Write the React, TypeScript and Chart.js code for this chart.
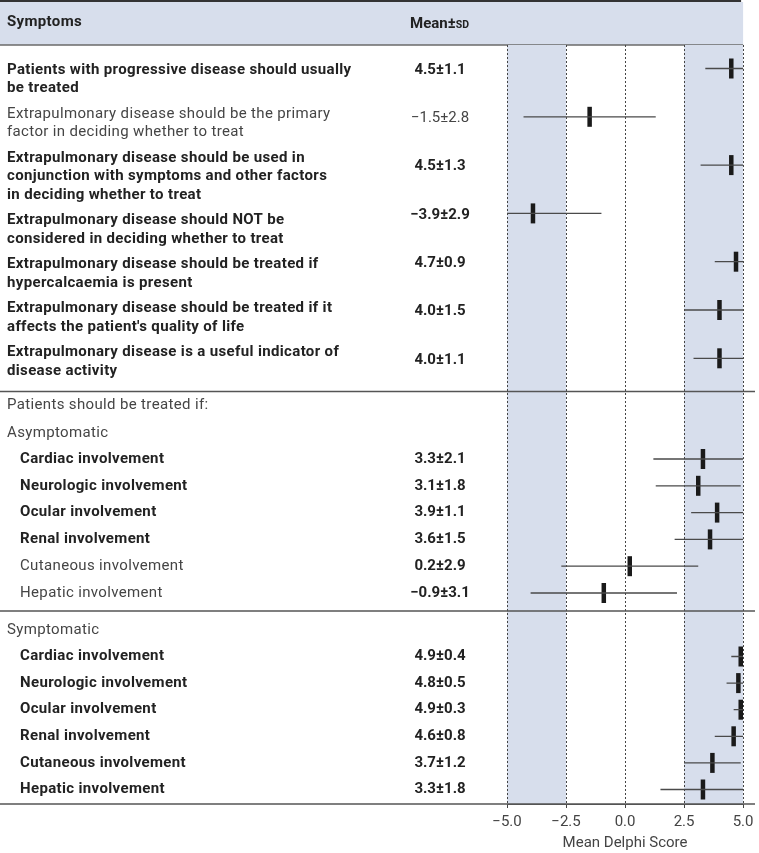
import React, { useEffect, useRef } from "react";
import { Chart, registerables } from "chart.js";

Chart.register(...registerables);

// ---------- DATA ----------
const generalItems: string[][] = [
  ["Patients with progressive disease should usually", "be treated"],
  ["Extrapulmonary disease should be the primary", "factor in deciding whether to treat"],
  ["Extrapulmonary disease should be used in", "conjunction with symptoms and other factors", "in deciding whether to treat"],
  ["Extrapulmonary disease should NOT be", "considered in deciding whether to treat"],
  ["Extrapulmonary disease should be treated if", "hypercalcaemia is present"],
  ["Extrapulmonary disease should be treated if it", "affects the patient's quality of life"],
  ["Extrapulmonary disease is a useful indicator of", "disease activity"],
];
const generalMeans = [4.5, -1.5, 4.5, -3.9, 4.7, 4.0, 4.0];
const generalSD = [1.1, 2.8, 1.3, 2.9, 0.9, 1.5, 1.1];
const generalBold = [true, false, true, true, true, true, true];
const generalMeanBold = [true, false, true, true, true, true, true];

const sectionHeading = "Patients should be treated if:";
const groupNames = ["Asymptomatic", "Symptomatic"];
const organs = [
  "Cardiac involvement",
  "Neurologic involvement",
  "Ocular involvement",
  "Renal involvement",
  "Cutaneous involvement",
  "Hepatic involvement",
];
const asymMeans = [3.3, 3.1, 3.9, 3.6, 0.2, -0.9];
const asymSD = [2.1, 1.8, 1.1, 1.5, 2.9, 3.1];
const asymBold = [true, true, true, true, false, false];
const asymMeanBold = [true, true, true, true, true, true];

const symMeans = [4.9, 4.8, 4.9, 4.6, 3.7, 3.3];
const symSD = [0.4, 0.5, 0.3, 0.8, 1.2, 1.8];
const symBold = [true, true, true, true, true, true];
const symMeanBold = [true, true, true, true, true, true];

const xTicks = [-5, -2.5, 0, 2.5, 5];
const xTitle = "Mean Delphi Score";
const headerSymptoms = "Symptoms";
const headerMean = "Mean±";
const headerSD = "SD";

// ---------- LAYOUT ----------
const W = 759;
const H = 853;
const AREA_TOP = 45;
const AREA_BOTTOM = 804;
const AREA_LEFT = 507;
const AREA_RIGHT = 745;
const FONT = "Roboto, 'DejaVu Sans', sans-serif";
const BAND = "#d7deec";
const DARK = "#222222";
const REG = "#454545";

const genRowY = generalMeans.map((_, i) => 68.5 + i * 48.3);
const asymRowY = organs.map((_, i) => 459 + i * 26.8);
const symRowY = organs.map((_, i) => 656.5 + i * 26.6);

const fmt = (v: number) => (v < 0 ? "\u2212" : "") + Math.abs(v).toFixed(1);
const fmtMean = (m: number, s: number) => `${fmt(m)}±${s.toFixed(1)}`;
const clamp = (v: number) => Math.max(-5, Math.min(5, v));

export default function App() {
  const ref = useRef<HTMLCanvasElement | null>(null);

  useEffect(() => {
    if (!ref.current) return;

    const allMeans = [...generalMeans, ...asymMeans, ...symMeans];
    const allSD = [...generalSD, ...asymSD, ...symSD];
    const allY = [...genRowY, ...asymRowY, ...symRowY];

    const segs: any[] = [];
    allMeans.forEach((m, i) => {
      segs.push({ x: clamp(m - allSD[i]), y: allY[i] });
      segs.push({ x: clamp(m + allSD[i]), y: allY[i] });
      segs.push({ x: clamp(m + allSD[i]), y: null });
    });
    const marks = allMeans.map((m, i) => ({ x: m, y: allY[i] }));

    const bgPlugin = {
      id: "bg",
      beforeDraw(chart: any) {
        const { ctx } = chart;
        const xs = chart.scales.x;
        const top = chart.chartArea.top;
        const bottom = chart.chartArea.bottom;
        ctx.save();
        ctx.fillStyle = "#ffffff";
        ctx.fillRect(0, 0, W, H);
        // header band
        ctx.fillStyle = BAND;
        ctx.fillRect(0, 2, xs.getPixelForValue(5), top - 2);
        ctx.fillStyle = "#333";
        ctx.fillRect(0, 0, xs.getPixelForValue(5) - 2, 2);
        ctx.strokeStyle = "#6a6a6a";
        ctx.lineWidth = 1.5;
        ctx.beginPath();
        ctx.moveTo(0, top);
        ctx.lineTo(xs.getPixelForValue(5), top);
        ctx.stroke();
        // shaded zones
        ctx.fillStyle = BAND;
        const a = xs.getPixelForValue(-5), b = xs.getPixelForValue(-2.5);
        const c = xs.getPixelForValue(2.5), d = xs.getPixelForValue(5);
        ctx.fillRect(a, top, b - a, bottom - top);
        ctx.fillRect(c, top, d - c, bottom - top);
        ctx.restore();
      },
      afterDraw(chart: any) {
        const { ctx } = chart;
        ctx.save();
        // separators
        ctx.strokeStyle = "#555";
        ctx.lineWidth = 1.3;
        [391.5, 611, chart.chartArea.bottom].forEach((y) => {
          ctx.beginPath();
          ctx.moveTo(0, y);
          ctx.lineTo(755, y);
          ctx.stroke();
        });

        const text = (
          s: string,
          x: number,
          y: number,
          bold: boolean,
          align: CanvasTextAlign = "left",
          spacing = "0.35px"
        ) => {
          ctx.font = `${bold ? "bold " : ""}15px ${FONT}`;
          (ctx as any).letterSpacing = spacing;
          ctx.fillStyle = bold ? DARK : REG;
          ctx.textAlign = align;
          ctx.textBaseline = "middle";
          ctx.fillText(s, x, y);
          (ctx as any).letterSpacing = "0px";
        };

        // header
        text(headerSymptoms, 7, 22, true);
        ctx.font = `bold 15px ${FONT}`;
        ctx.fillStyle = DARK;
        ctx.textAlign = "left";
        ctx.textBaseline = "alphabetic";
        ctx.fillText(headerMean, 410, 27.5);
        const mw = ctx.measureText(headerMean).width;
        ctx.font = `bold 10.5px ${FONT}`;
        ctx.fillText(headerSD, 410 + mw, 27.5);

        // section 1 text blocks
        let ty = 70;
        generalItems.forEach((lines, i) => {
          lines.forEach((ln, j) => text(ln, 7, ty + j * 18.5, generalBold[i]));
          ty += lines.length * 18.5 + 7;
          text(fmtMean(generalMeans[i], generalSD[i]), 440, genRowY[i] + 1.5, generalMeanBold[i], "center", "0px");
        });

        // section 2
        text(sectionHeading, 7, 405, false);
        text(groupNames[0], 7, 433, false);
        organs.forEach((o, i) => {
          text(o, 20, asymRowY[i], asymBold[i]);
          text(fmtMean(asymMeans[i], asymSD[i]), 440, asymRowY[i], asymMeanBold[i], "center", "0px");
        });

        // section 3
        text(groupNames[1], 7, 630, false);
        organs.forEach((o, i) => {
          text(o, 20, symRowY[i], symBold[i]);
          text(fmtMean(symMeans[i], symSD[i]), 440, symRowY[i], symMeanBold[i], "center", "0px");
        });
        ctx.restore();
      },
    };

    const chart = new Chart(ref.current, {
      type: "line",
      data: {
        datasets: [
          {
            type: "line",
            data: segs,
            borderColor: "#4a4a4a",
            borderWidth: 1.3,
            pointRadius: 0,
            spanGaps: false,
            tension: 0,
            clip: false,
          } as any,
          {
            type: "scatter",
            data: marks,
            pointStyle: "line",
            rotation: 90,
            pointRadius: 10,
            borderWidth: 4.5,
            borderColor: "#1a1a1a",
            backgroundColor: "#1a1a1a",
            clip: false,
          } as any,
        ],
      },
      options: {
        animation: false,
        responsive: false,
        layout: { padding: { left: AREA_LEFT, right: W - AREA_RIGHT, top: AREA_TOP, bottom: 0 } },
        plugins: { legend: { display: false }, tooltip: { enabled: false } },
        scales: {
          x: {
            type: "linear",
            min: -5,
            max: 5,
            afterBuildTicks: (s: any) => {
              s.ticks = xTicks.map((v) => ({ value: v }));
            },
            ticks: {
              callback: (v: any) => fmt(Number(v)),
              color: "#444",
              font: { family: FONT, size: 15, lineHeight: 1.2 },
              padding: 5.5,
              maxRotation: 0,
            },
            grid: { color: "#444", lineWidth: 1, tickLength: 4 },
            border: { display: true, color: "#555", width: 1, dash: [2, 2] },
            title: {
              display: true,
              text: xTitle,
              color: "#444",
              font: { family: FONT, size: 15, lineHeight: 1 },
              padding: { top: -1.5, bottom: 2.5 },
            },
          },
          y: {
            type: "linear",
            display: false,
            reverse: true,
            min: AREA_TOP,
            max: AREA_BOTTOM,
          },
        },
      } as any,
      plugins: [bgPlugin],
    });
    return () => chart.destroy();
  }, []);

  return (
    <canvas
      ref={ref}
      width={W}
      height={H}
      style={{ position: "absolute", left: 0, top: 0, width: W, height: H }}
    />
  );
}
